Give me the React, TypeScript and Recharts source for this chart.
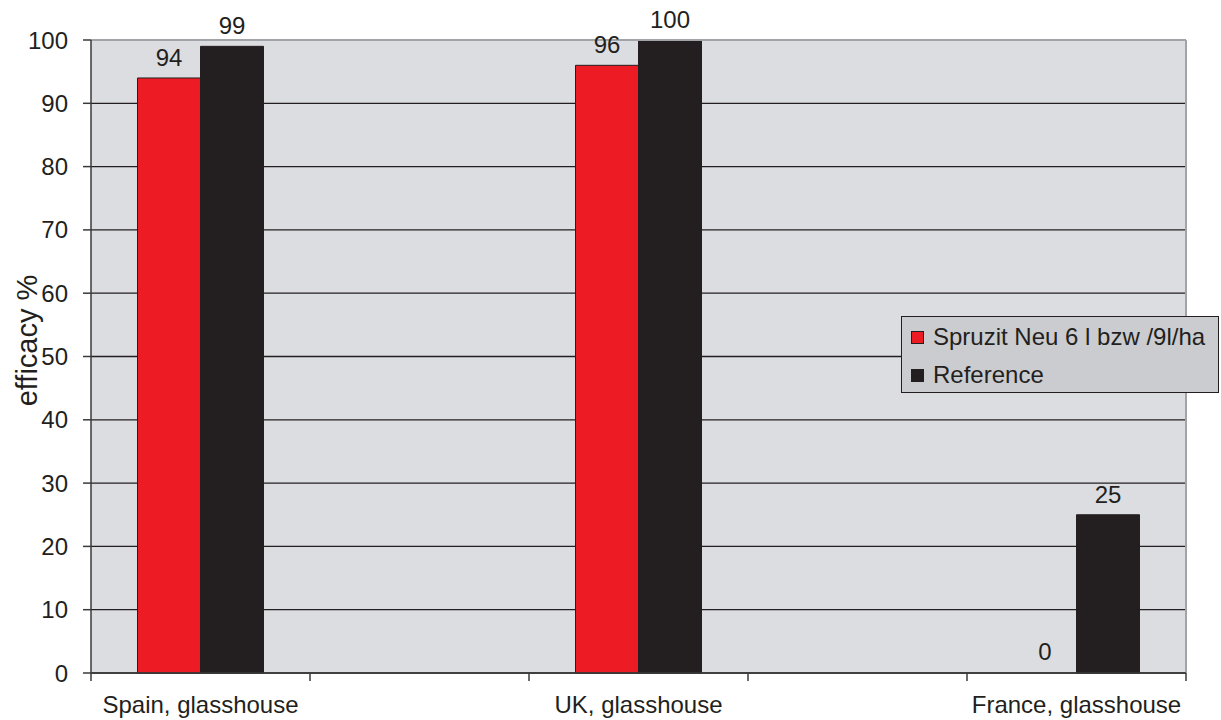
import {
  BarChart,
  Bar,
  XAxis,
  YAxis,
  CartesianGrid,
  ReferenceLine,
  LabelList,
  Label,
  Rectangle,
} from "recharts";

const SITES = ["Spain, glasshouse", "UK, glasshouse", "France, glasshouse"];
// position of each site on the frame axis (tick marks every half step)
const SLOTS = [0.5, 2.5, 4.5];
const SPRUZIT = [94, 96, 0];
const REFERENCE = [99, 100, 25];
const Y_TICKS = [0, 10, 20, 30, 40, 50, 60, 70, 80, 90, 100];
const FRAME_TICKS = [0, 0.5, 1, 1.5, 2, 2.5, 3, 3.5, 4, 4.5, 5];

const SERIES_NAMES = ["Spruzit Neu 6 l bzw /9l/ha", "Reference"];
const RED = "#ed1c24";
const DARK = "#231f20";
const FONT = "'Liberation Sans', Arial, sans-serif";

const data = SITES.map((site, i) => ({
  site,
  slot: SLOTS[i],
  spruzit: SPRUZIT[i],
  reference: REFERENCE[i],
}));

function FrameTick(props: any) {
  const { x, y, payload } = props;
  const v = payload.value as number;
  if (Number.isInteger(v)) {
    return <line x1={x} x2={x} y1={y} y2={y + 8} stroke="#3a3a3a" strokeWidth={1.5} />;
  }
  const idx = SLOTS.indexOf(v);
  if (idx < 0) return null;
  return (
    <text x={x} y={y + 40} textAnchor="middle" fontSize={24} fill={DARK} fontFamily={FONT}>
      {SITES[idx]}
    </text>
  );
}

function YTitle(props: any) {
  const vb = props.viewBox;
  const cx = vb.x + 27;
  const cy = vb.y + vb.height / 2 - 16;
  return (
    <text
      x={cx}
      y={cy}
      transform={`rotate(-90 ${cx} ${cy})`}
      textAnchor="middle"
      dominantBaseline="central"
      fontSize={29}
      fill={DARK}
      fontFamily={FONT}
    >
      efficacy %
    </text>
  );
}

// value label above a bar
function TopValue(props: any) {
  const { x, y, width, value } = props;
  if (value === undefined || value === null) return null;
  return (
    <text
      x={Number(x) + Number(width) / 2}
      y={Number(y) - 12}
      textAnchor="middle"
      fontSize={24}
      fill={DARK}
      fontFamily={FONT}
    >
      {value}
    </text>
  );
}

// zero values keep their label but draw no rectangle
function SpruzitShape(props: any) {
  if (!props.payload || props.payload.spruzit <= 0) return <g />;
  return <Rectangle {...props} />;
}

const legendColors = [RED, DARK];

export default function App() {
  return (
    <div style={{ position: "absolute", left: 0, top: 0, width: 1221, height: 720, background: "#fff" }}>
      <BarChart
        width={1221}
        height={720}
        data={data}
        margin={{ top: 40, right: 35, bottom: 0, left: 0 }}
        barGap={0}
        style={{ fontFamily: FONT }}
      >
        <CartesianGrid
          xAxisId="frame"
          vertical={false}
          fill="#dcdde0"
          fillOpacity={1}
          stroke={DARK}
          strokeWidth={1.3}
        />
        <XAxis
          xAxisId="cat"
          dataKey="site"
          hide
          height={0}
          padding={{ left: -109.5, right: -109.5 }}
        />
        <XAxis
          xAxisId="frame"
          type="number"
          dataKey="slot"
          domain={[0, 5]}
          allowDataOverflow
          ticks={FRAME_TICKS}
          interval={0}
          tick={<FrameTick />}
          tickLine={false}
          tickSize={0}
          tickMargin={0}
          height={47}
          axisLine={{ stroke: "#3a3a3a", strokeWidth: 1.5 }}
        />
        <YAxis
          domain={[0, 100]}
          ticks={Y_TICKS}
          interval={0}
          width={91}
          tickSize={8}
          tickMargin={15}
          tick={{ fontSize: 24, fill: DARK, fontFamily: FONT }}
          tickLine={{ stroke: "#3a3a3a", strokeWidth: 1.5 }}
          axisLine={{ stroke: "#3a3a3a", strokeWidth: 1.5 }}
        >
          <Label content={<YTitle />} />
        </YAxis>
        <ReferenceLine y={100} xAxisId="frame" stroke="#a2a3a6" strokeWidth={2} />
        <ReferenceLine x={5} xAxisId="frame" stroke="#a2a3a6" strokeWidth={2} />
        <Bar
          xAxisId="cat"
          dataKey="spruzit"
          name={SERIES_NAMES[0]}
          fill={RED}
          stroke={DARK}
          strokeWidth={1}
          barSize={63}
          minPointSize={1}
          shape={<SpruzitShape />}
          isAnimationActive={false}
        >
          <LabelList dataKey="spruzit" content={<TopValue />} />
        </Bar>
        <Bar
          xAxisId="cat"
          dataKey="reference"
          name={SERIES_NAMES[1]}
          fill={DARK}
          stroke={DARK}
          strokeWidth={1}
          barSize={63}
          isAnimationActive={false}
        >
          <LabelList dataKey="reference" content={<TopValue />} />
        </Bar>
      </BarChart>
      <div
        style={{
          position: "absolute",
          left: 901,
          top: 316,
          width: 318,
          height: 77,
          background: "#cbcccf",
          border: `1.5px solid ${DARK}`,
          boxSizing: "border-box",
          fontFamily: FONT,
          fontSize: 24,
          color: DARK,
          padding: "1px 0 0 9px",
        }}
      >
        {SERIES_NAMES.map((name, i) => (
          <div key={name} style={{ display: "flex", alignItems: "center", height: 38 }}>
            <span
              style={{
                display: "inline-block",
                width: 11,
                height: 11,
                background: legendColors[i],
                border: `1px solid ${DARK}`,
                marginRight: 9,
              }}
            />
            <span>{name}</span>
          </div>
        ))}
      </div>
    </div>
  );
}
